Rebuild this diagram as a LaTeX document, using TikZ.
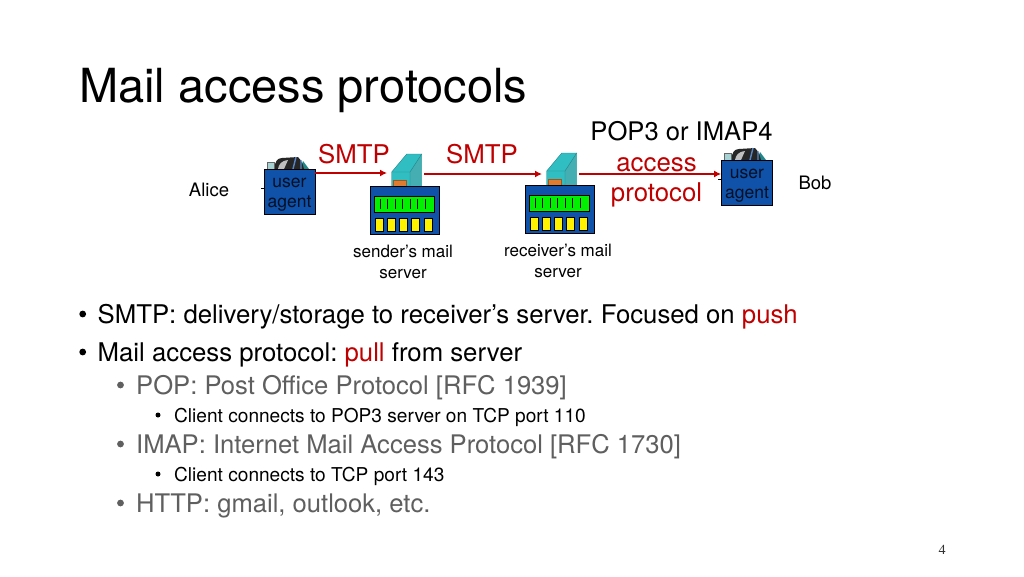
\documentclass[tikz,border=0pt]{standalone}
\usepackage{fontspec}
\setmainfont{TeX Gyre Heros}
\newfontfamily\numfont{Liberation Serif}
\usetikzlibrary{positioning, arrows.meta}
\definecolor{mailred}{RGB}{192, 0, 0}
\definecolor{mailblue}{RGB}{16, 82, 170}
\definecolor{mailteal}{RGB}{48, 190, 195}
\definecolor{mailgray}{RGB}{95, 95, 95}
\definecolor{mailgreen}{RGB}{0, 240, 0}
\definecolor{mailorange}{RGB}{222, 125, 50}
\tikzset{
    lbl/.style={inner sep=0pt, font=\fontsize{17}{21.5}\selectfont, align=center},
    namelbl/.style={inner sep=0pt, font=\fontsize{18.5}{21.5}\selectfont},
    redlbl/.style={inner sep=0pt, text=mailred, font=\fontsize{25.8}{31}\selectfont},
    bigtxt/.style={inner sep=0pt, anchor=base west, font=\fontsize{25.75}{30}\selectfont},
    subtxt/.style={inner sep=0pt, anchor=base west, text=mailgray, font=\fontsize{25.6}{30}\selectfont},
    smalltxt/.style={inner sep=0pt, anchor=base west, font=\fontsize{19.1}{21}\selectfont},
    dotblack/.style={circle, fill=black, inner sep=0pt, minimum size=6.8pt},
    dotgray/.style={dotblack, fill=mailgray},
    dotsmall/.style={dotblack, minimum size=5pt},
    agentbox/.style={draw=black, fill=mailblue, line width=0.8pt, minimum width=51pt, minimum height=45pt,
        inner sep=0pt, align=center, text=black!80!mailblue, font=\fontsize{17.5}{20}\selectfont},
    proto/.style={-{Latex[length=7pt,width=7pt]}, mailred, line width=1.8pt},
    mailserver/.pic={
        \fill[mailteal, draw=mailteal!70!black, line width=0.4pt] (21.7,0) -- (21.7,-14) -- (36.7,-32) -- (51.7,-32) -- (51.7,0) -- cycle;
        \fill[mailteal!75!gray] (40,0) -- (40,-14) -- (51.7,-32) -- (51.7,0) -- cycle;
        \draw[mailteal!70!black, line width=0.4pt] (21.7,-14) -- (40,-14) -- (40,0) (40,-14) -- (51.7,-32);
        \fill[mailorange, draw=mailorange!70!black, line width=0.3pt] (23,0) rectangle (36,-6);
        \fill[mailblue, draw=black, line width=0.8pt] (0,0) rectangle (69,48);
        \fill[mailgreen, draw=black, line width=0.8pt] (4,10) rectangle (64,26);
        \foreach \i in {0,...,6} \draw[black, line width=0.9pt] (10+7.5*\i,13) -- (10+7.5*\i,23);
        \foreach \i in {0,...,4} \fill[yellow, draw=black, line width=0.3pt] (5+12.2*\i,32) rectangle (13+12.2*\i,45);
        \coordinate (-in) at (17,-11);
        \coordinate (-out) at (54,-11);
    },
    phone/.pic={
        \fill[mailteal!70!black] (36,0) -- (39,-8) -- (45,0) -- cycle;
        \fill[black!85] (10,0) .. controls (11,-7) and (13,-11) .. (18,-11) -- (34,-12) .. controls (38,-8) and (39,-4) .. (40,0) -- cycle;
        \fill[gray!50] (14,0) .. controls (15,-5) and (17,-8) .. (24,-9) -- (20,0) -- cycle;
        \fill[black!25!mailteal!40!white, draw=black!60, line width=0.3pt] (3,0) rectangle (10,-7);
        \draw[mailblue!70!white, line width=1.4pt] (29,0) -- (32,-12) (37,0) -- (37,-9);
        \draw[black, line width=0.8pt] (-3,19) -- (0,19);
    }
}
\begin{document}
\begin{tikzpicture}[x=1pt, y=-1pt]
\frenchspacing
\useasboundingbox (0,0) rectangle (1024,576);
\fill[white] (0,0) rectangle (1024,576);

\node[inner sep=0pt, anchor=base west, font=\fontsize{47}{50}\selectfont] (title) at (79,102) {Mail access protocols};

% alice and bob
\pic at (264,169) {phone};
\pic at (721,160) {phone};
\node[agentbox] (alice) at (289.5,191.5) {\rule{0pt}{15pt}user\\agent};
\node[agentbox] (bob) at (747,182.5) {\rule{0pt}{15pt}user\\agent};
\node[namelbl] (alicelbl) at (209,190) {Alice};
\node[namelbl] (boblbl) at (815,183) {Bob};

% mail servers
\pic (sendsrv) at (370,186) {mailserver};
\pic (recvsrv) at (525,185) {mailserver};
\node[lbl] (sendlbl) at (403,262) {sender’s mail\\server};
\node[lbl] (recvlbl) at (558,261) {receiver’s mail\\server};

\node[redlbl] (smtpa) at (354,154) {SMTP};
\node[redlbl] (smtpb) at (482,154) {SMTP};
\node[inner sep=0pt, font=\fontsize{25.6}{30}\selectfont] (pop) at (681.5,131) {POP3 or IMAP4};
\node[redlbl] (acc) at (656.5,164.5) {access};
\node[redlbl] (prot) at (656.5,194.5) {protocol};

% arrows
\draw[proto] ([yshift=2pt]alice.east |- sendsrv-in) -- ([yshift=2pt]sendsrv-in);
\draw[proto] (sendsrv-out |- recvsrv-in) -- (recvsrv-in);
\draw[proto] (recvsrv-out) -- (bob.west |- recvsrv-out);

% bullets
\node[dotblack] (ba) at (82.7,314) {};
\node[bigtxt] (ta) at (97.5,323) {SMTP: delivery/storage to receiver’s server. Focused on \textcolor{mailred}{push}};
\node[dotblack] (bb) at (82.7,352) {};
\node[bigtxt] (tb) at (97.5,361) {Mail access protocol: \textcolor{mailred}{pull} from server};
\node[dotgray] (bc) at (120.5,385) {};
\node[subtxt] (tc) at (136,394) {POP: Post Office Protocol [RFC 1939]};
\node[dotsmall] (bd) at (158,415) {};
\node[smalltxt] (td) at (174,422) {Client connects to POP3 server on TCP port 110};
\node[dotgray] (be) at (120.5,444) {};
\node[subtxt] (te) at (136,453) {IMAP: Internet Mail Access Protocol [RFC 1730]};
\node[dotsmall] (bf) at (158,474) {};
\node[smalltxt] (tf) at (174,481) {Client connects to TCP port 143};
\node[dotgray] (bg) at (120.5,503) {};
\node[subtxt] (tg) at (136,512) {HTTP: gmail, outlook, etc.};

\node[inner sep=0pt, text=black!80, font=\numfont\fontsize{14}{16}\selectfont] (pagenum) at (942,550) {4};
\end{tikzpicture}
\end{document}
